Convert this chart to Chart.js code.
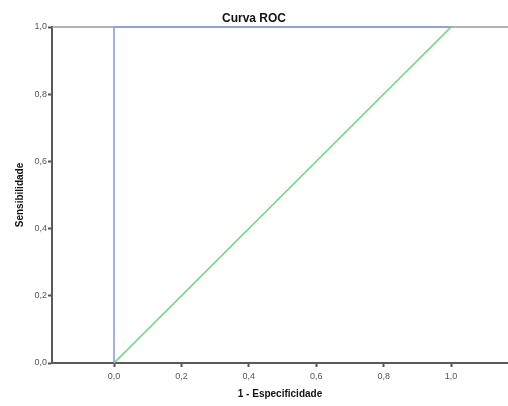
<!DOCTYPE html>
<html>
<head>
<meta charset="utf-8">
<script src="https://cdn.jsdelivr.net/npm/chart.js@4/dist/chart.umd.min.js"></script>
<style>
  html, body { margin: 0; padding: 0; background: #fff; }
  #wrap { width: 508px; height: 406px; }
</style>
</head>
<body>
<div id="wrap"><canvas id="roc"></canvas></div>
<script>
// Dados da curva ROC (1 - especificidade, sensibilidade)
const rocX = [0, 0, 1];
const rocY = [0, 1, 1];
// Linha de referência (diagonal)
const refX = [0, 1];
const refY = [0, 1];
const tickValues = [0, 0.2, 0.4, 0.6, 0.8, 1.0];

const toPoints = (xs, ys) => xs.map((x, i) => ({ x: x, y: ys[i] }));
const fmt = v => Number(v).toFixed(1).replace('.', ',');

// Linha cinza no topo da área do gráfico
const topFrame = {
    id: 'topFrame',
    beforeDatasetsDraw(chart) {
        const { ctx, chartArea } = chart;
        ctx.save();
        ctx.strokeStyle = '#9a9a9a';
        ctx.lineWidth = 1.5;
        ctx.beginPath();
        ctx.moveTo(chartArea.left, chartArea.top);
        ctx.lineTo(chartArea.right, chartArea.top);
        ctx.stroke();
        ctx.restore();
    }
};

const fixTicks = scale => { scale.ticks = tickValues.map(v => ({ value: v })); };

new Chart(document.getElementById('roc'), {
    type: 'scatter',
    data: {
        datasets: [
            {
                label: 'Curva',
                data: toPoints(rocX, rocY),
                showLine: true,
                borderColor: '#8a9fe0',
                borderWidth: 1.6,
                pointRadius: 0,
                tension: 0,
                clip: 4
            },
            {
                label: 'Referência',
                data: toPoints(refX, refY),
                showLine: true,
                borderColor: '#6dd67a',
                borderWidth: 1.6,
                pointRadius: 0,
                tension: 0,
                clip: 4
            }
        ]
    },
    options: {
        responsive: true,
        maintainAspectRatio: false,
        animation: false,
        layout: { padding: { left: 0, right: 0, top: 0, bottom: 0 } },
        plugins: {
            legend: { display: false },
            tooltip: { enabled: false },
            title: {
                display: true,
                text: 'Curva ROC',
                color: '#111',
                font: { family: 'Liberation Sans, Arial, sans-serif', size: 12, weight: 'bold' },
                padding: { top: 11, bottom: 1.6 }
            }
        },
        scales: {
            x: {
                type: 'linear',
                min: -0.184,
                max: 1.169,
                afterBuildTicks: fixTicks,
                afterFit: scale => { scale.height = 43; },
                grid: { drawOnChartArea: false, color: '#555', tickLength: 4, tickWidth: 2 },
                border: { display: true, color: '#5a5a5a', width: 2 },
                ticks: {
                    callback: fmt,
                    color: '#555',
                    padding: 4,
                    font: { family: 'Liberation Sans, Arial, sans-serif', size: 9 }
                },
                title: {
                    display: true,
                    text: '1 - Especificidade',
                    color: '#111',
                    font: { family: 'Liberation Sans, Arial, sans-serif', size: 10, weight: 'bold' },
                    padding: { top: 6, bottom: 6 }
                }
            },
            y: {
                type: 'linear',
                min: 0,
                max: 1,
                afterBuildTicks: fixTicks,
                afterFit: scale => { scale.width = 52; },
                grid: { drawOnChartArea: false, color: '#555', tickLength: 4, tickWidth: 2 },
                border: { display: true, color: '#5a5a5a', width: 2 },
                ticks: {
                    callback: fmt,
                    color: '#555',
                    padding: 1,
                    font: { family: 'Liberation Sans, Arial, sans-serif', size: 9 }
                },
                title: {
                    display: true,
                    text: 'Sensibilidade',
                    color: '#111',
                    font: { family: 'Liberation Sans, Arial, sans-serif', size: 10, weight: 'bold' },
                    padding: { top: 14, bottom: 14 }
                }
            }
        }
    },
    plugins: [topFrame]
});
</script>
</body>
</html>
